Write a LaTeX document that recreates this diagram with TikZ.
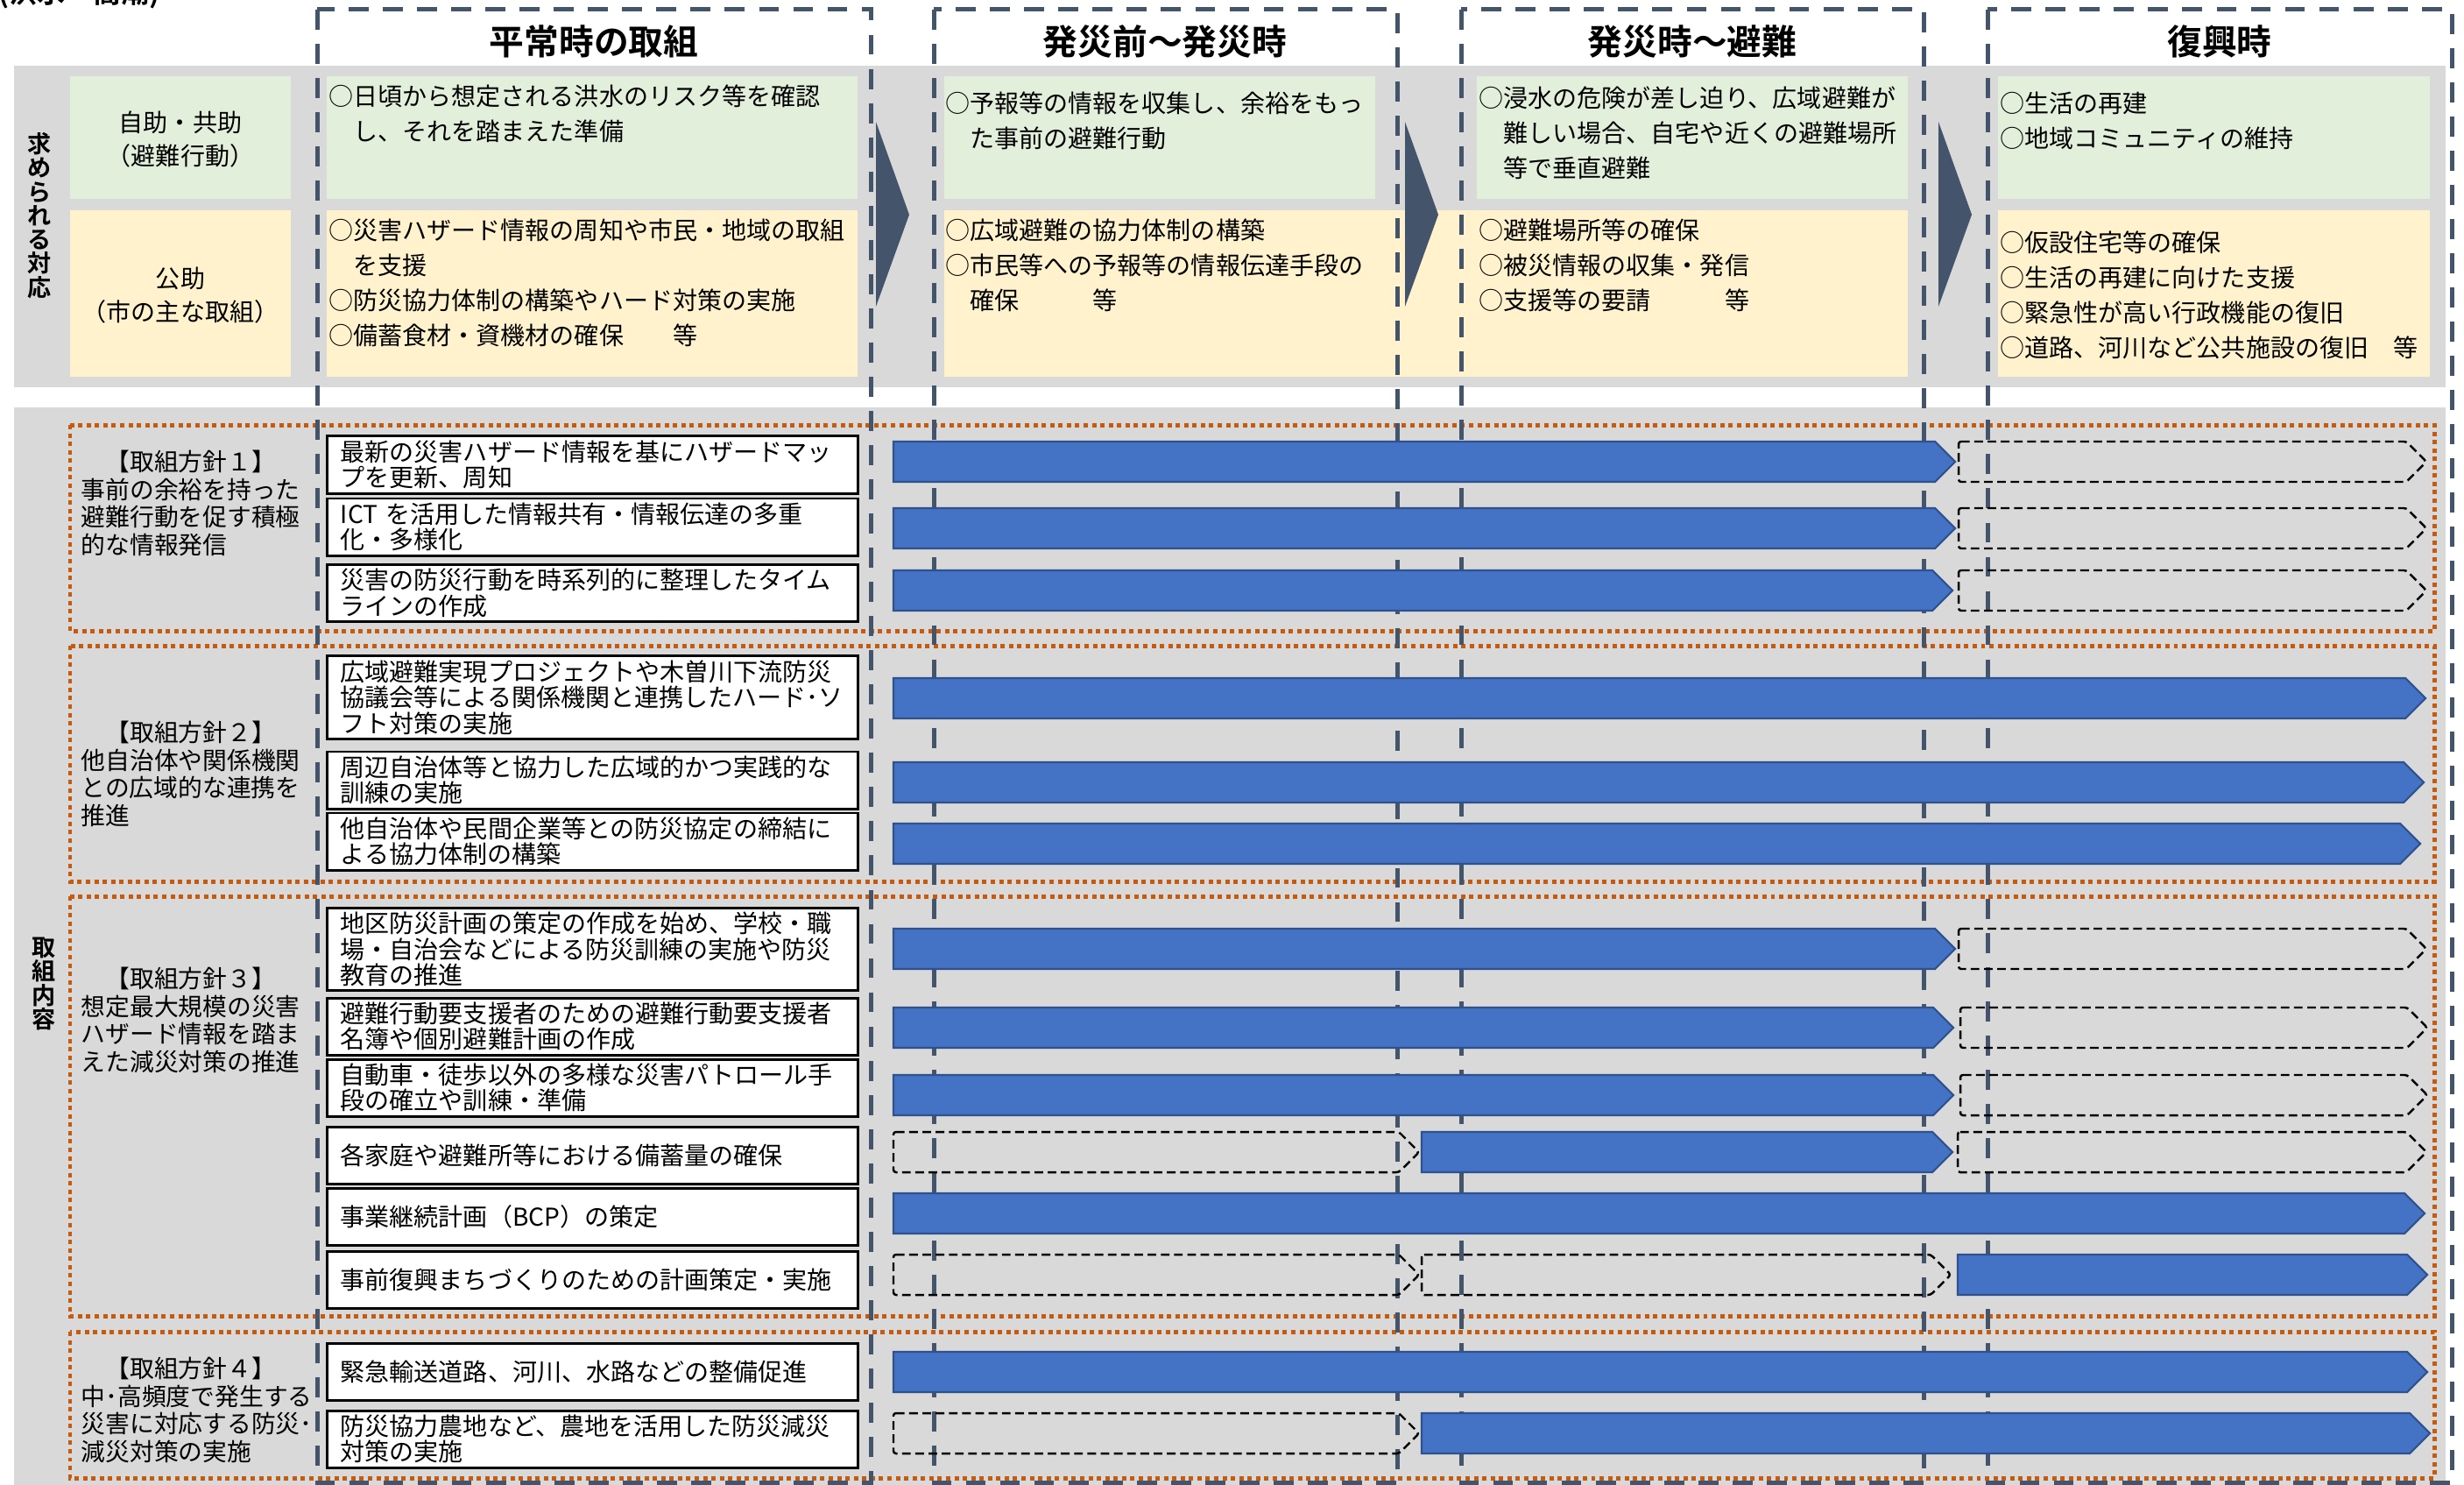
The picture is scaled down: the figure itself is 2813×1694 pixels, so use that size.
\documentclass[tikz,border=0pt]{standalone}
\usepackage{fontspec}
\setmainfont{Noto Sans CJK JP}[BoldFont={Noto Sans CJK JP Bold}]
\usetikzlibrary{positioning}
\definecolor{fldgray}{HTML}{D9D9D9}
\definecolor{fldgreen}{HTML}{E2EFDA}
\definecolor{fldyellow}{HTML}{FFF2CC}
\definecolor{fldslate}{HTML}{44546A}
\definecolor{fldorange}{HTML}{C55A11}
\definecolor{fldblue}{HTML}{4472C4}
\definecolor{fldblueline}{HTML}{2F528F}
\newcommand{\panefont}{\fontsize{7.97pt}{11.38pt}\selectfont}
\newcommand{\labfont}{\fontsize{7.97pt}{11pt}\selectfont}
\newcommand{\taskfont}{\fontsize{7.97pt}{8.4pt}\selectfont}
\newcommand{\grpfont}{\fontsize{7.9pt}{8.96pt}\selectfont}
\newcommand{\headfont}{\fontsize{11.3pt}{12pt}\selectfont\bfseries}
\newcommand{\vlabfont}{\fontsize{7.7pt}{7.75pt}\selectfont\bfseries}
\tikzset{
  phase/.style={draw=fldslate, line width=1.42pt, dash pattern=on 6.5pt off 4.6pt},
  group/.style={draw=fldorange, line width=1.42pt, dash pattern=on 1.42pt off 1.3pt},
  pane/.style={inner sep=0pt, anchor=west, align=left, font=\panefont},
  lab/.style={inner sep=0pt, align=center, font=\labfont},
  grp/.style={inner sep=0pt, anchor=west, align=left, font=\grpfont},
  head/.style={inner sep=0pt, font=\headfont},
  vlab/.style={inner sep=0pt, align=center, font=\vlabfont},
  task/.style={draw=black, line width=0.85pt, fill=white, text width=163.6pt, inner xsep=4.27pt, inner ysep=0pt, minimum height=18.49pt, align=left, font=\taskfont},
  bar/.style={draw=fldblueline, line width=0.6pt, fill=fldblue},
  ghost/.style={draw=black, line width=0.7pt, dash pattern=on 2.8pt off 1.5pt, rounded corners=0.8pt},
}
\begin{document}
\begin{tikzpicture}[x=0.01cm,y=-0.01cm]
  \useasboundingbox (0,0) rectangle (2813,1694);
  \node[inner sep=0pt, anchor=base west, font=\fontsize{9.1pt}{10pt}\selectfont\bfseries] (caption) at (-2,4) {(洪水・高潮)};
  % grey fields
  \fill[fldgray] (16,75) rectangle (2792,442);
  \fill[fldgray] (16,465) rectangle (2792,1700);
  % required responses
  \fill[fldgreen] (80,87) rectangle (332,227);
  \fill[fldyellow] (80,240) rectangle (332,430);
  \foreach \l/\r in {373/979,1078/1570,1686/2178,2281/2774}
    { \fill[fldgreen] (\l,87) rectangle (\r,227); \fill[fldyellow] (\l,240) rectangle (\r,430); }
  \fill[fldyellow] (1570,240) rectangle (1686,430);
  \foreach \x in {1000,1604,2213} \fill[fldslate] (\x,139) -- (\x+38,245) -- (\x,350) -- cycle;
  \node[vlab] (need) at (45,246) {求\\め\\ら\\れ\\る\\対\\応};
  \node[lab] (self) at (206,159) {自助・共助\\（避難行動）};
  \node[lab] (city) at (206,337) {公助\\（市の主な取組）};
  \node[pane] (p1a) at (375,130) {○日頃から想定される洪水のリスク等を確認\\　し、それを踏まえた準備};
  \node[pane] (p1b) at (375,323) {○災害ハザード情報の周知や市民・地域の取組\\　を支援\\○防災協力体制の構築やハード対策の実施\\○備蓄食材・資機材の確保　　等};
  \node[pane] (p2a) at (1079,138) {○予報等の情報を収集し、余裕をもっ\\　た事前の避難行動};
  \node[pane] (p2b) at (1079,303) {○広域避難の協力体制の構築\\○市民等への予報等の情報伝達手段の\\　確保　　　等};
  \node[pane] (p3a) at (1688,152) {○浸水の危険が差し迫り、広域避難が\\　難しい場合、自宅や近くの避難場所\\　等で垂直避難};
  \node[pane] (p3b) at (1688,303) {○避難場所等の確保\\○被災情報の収集・発信\\○支援等の要請　　　等};
  \node[pane] (p4a) at (2283,138) {○生活の再建\\○地域コミュニティの維持};
  \node[pane] (p4b) at (2283,337) {○仮設住宅等の確保\\○生活の再建に向けた支援\\○緊急性が高い行政機能の復旧\\○道路、河川など公共施設の復旧　等};
  % policy groups
  \foreach \t/\b in {485/720,737/1006,1023/1502,1520/1687} \draw[group] (80,\t) rectangle (2779,\b);
  \node[vlab] (work) at (50,1123) {取\\組\\内\\容};
  \node[grp] (g1) at (92,574.5) {　【取組方針１】\\事前の余裕を持った\\避難行動を促す積極\\的な情報発信};
  \node[grp] (g2) at (92,883.5) {　【取組方針２】\\他自治体や関係機関\\との広域的な連携を\\推進};
  \node[grp] (g3) at (92,1164.5) {　【取組方針３】\\想定最大規模の災害\\ハザード情報を踏ま\\えた減災対策の推進};
  \node[grp] (g4) at (92,1609.5) {　【取組方針４】\\中･高頻度で発生する\\災害に対応する防災･\\減災対策の実施};
  % phases
  \foreach \l/\r in {362/994,1066/1595,1668/2196,2269/2799} \draw[phase] (\l,11) rectangle (\r,1692);
  \node[head] (h1) at (678,47) {平常時の取組};
  \node[head] (h2) at (1330,47) {発災前〜発災時};
  \node[head] (h3) at (1932,47) {発災時〜避難};
  \node[head] (h4) at (2534,47) {復興時};
  % measures
  \node[task] (t1) at (676.5,530.5) {最新の災害ハザード情報を基にハザードマッ\\プを更新、周知};
  \node[task] (t2) at (676.5,601.5) {ICT を活用した情報共有・情報伝達の多重\\化・多様化};
  \node[task] (t3) at (676.5,677) {災害の防災行動を時系列的に整理したタイム\\ラインの作成};
  \node[task, minimum height=26.75pt] (t4) at (676.5,796) {広域避難実現プロジェクトや木曽川下流防災\\協議会等による関係機関と連携したハード･ソ\\フト対策の実施};
  \node[task] (t5) at (676.5,890.5) {周辺自治体等と協力した広域的かつ実践的な\\訓練の実施};
  \node[task] (t6) at (676.5,960.5) {他自治体や民間企業等との防災協定の締結に\\よる協力体制の構築};
  \node[task, minimum height=26.75pt] (t7) at (676.5,1083.5) {地区防災計画の策定の作成を始め、学校・職\\場・自治会などによる防災訓練の実施や防災\\教育の推進};
  \node[task] (t8) at (676.5,1171.5) {避難行動要支援者のための避難行動要支援者\\名簿や個別避難計画の作成};
  \node[task] (t9) at (676.5,1241.5) {自動車・徒歩以外の多様な災害パトロール手\\段の確立や訓練・準備};
  \node[task] (t10) at (676.5,1318.5) {各家庭や避難所等における備蓄量の確保};
  \node[task] (t11) at (676.5,1388.5) {事業継続計画（BCP）の策定};
  \node[task] (t12) at (676.5,1460.5) {事前復興まちづくりのための計画策定・実施};
  \node[task] (t13) at (676.5,1565.5) {緊急輸送道路、河川、水路などの整備促進};
  \node[task] (t14) at (676.5,1642.5) {防災協力農地など、農地を活用した防災減災\\対策の実施};
  % timeline bars
  \foreach \y/\a/\b/\s in {527/1020/2232/bar, 527/2236/2770/ghost, 603/1020/2232/bar, 603/2236/2770/ghost,
      674/1020/2229/bar, 674/2236/2770/ghost, 797/1020/2769/bar, 893/1020/2767/bar, 963/1020/2763/bar,
      1083/1020/2232/bar, 1083/2236/2770/ghost, 1173/1020/2230/bar, 1173/2238/2771/ghost,
      1250/1020/2230/bar, 1250/2238/2771/ghost, 1315/1020/1620/ghost, 1315/1623/2229/bar, 1315/2235/2770/ghost,
      1385/1020/2768/bar, 1455/1020/1620/ghost, 1455/1623/2227/ghost, 1455/2235/2771/bar,
      1566/1020/2771/bar, 1636/1020/1620/ghost, 1636/1623/2774/bar}
    \draw[\s] (\a,\y-23) -- (\b-23,\y-23) -- (\b,\y) -- (\b-23,\y+23) -- (\a,\y+23) -- cycle;
\end{tikzpicture}
\end{document}
